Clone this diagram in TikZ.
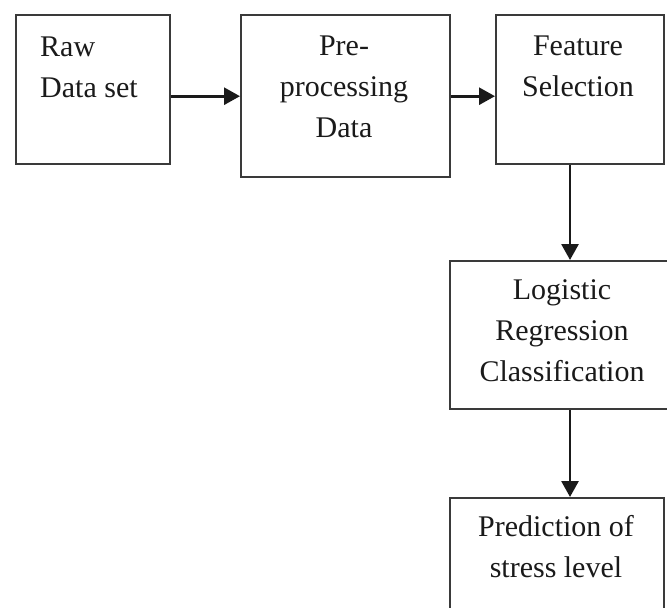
\documentclass[tikz,border=0pt]{standalone}
\usepackage{fontspec}
\setmainfont{Liberation Serif}
\usetikzlibrary{arrows.meta,calc}
\definecolor{edge}{HTML}{3A3A3A}
\definecolor{ink}{HTML}{1A1A1A}
\begin{document}
\begin{tikzpicture}[x=1pt,y=-1pt,
  stage/.style={draw=edge,line width=2.4pt,rectangle,anchor=north west,inner sep=0pt},
  label/.style={font=\fontsize{30}{41}\selectfont,text=ink,anchor=base,inner sep=0pt,align=center},
  flow/.style={draw=ink,line width=2.8pt,-{Triangle[length=16pt,width=17pt]}}]
  \useasboundingbox (0,0) rectangle (667,608);
  \clip (0,0) rectangle (667,608);

  % process boxes
  \node[stage,minimum width=154pt,minimum height=149pt] (raw)  at (15,14)  {};
  \node[stage,minimum width=209pt,minimum height=162pt] (pre)  at (240,14) {};
  \node[stage,minimum width=168pt,minimum height=149pt] (feat) at (495,14) {};
  \node[stage,minimum width=240pt,minimum height=148pt] (lr)   at (449,260) {};
  \node[stage,minimum width=214pt,minimum height=140pt] (pred) at (449,497) {};

  % box captions, placed by the baseline of their last line
  \node[label,anchor=base west,align=left] (rawtxt) at (40,97) {Raw\\Data set};
  \node[label] (pretxt)  at (344,137) {Pre-\\processing\\Data};
  \node[label] (feattxt) at (578,96)  {Feature\\Selection};
  \node[label] (lrtxt)   at (562,381) {Logistic\\Regression\\Classification};
  \node[label] (predtxt) at (556,577) {Prediction of\\stress level};

  % column of the downward arrows
  \coordinate (col) at (570,0);

  % connectors
  \draw[flow] (raw.east |- pre.west) -- (pre.west);
  \draw[flow] (pre.east) -- (feat.west |- pre.east);
  \draw[flow] (feat.south -| col) -- (lr.north -| col);
  \draw[flow] (lr.south -| col) -- (pred.north -| col);
\end{tikzpicture}
\end{document}
